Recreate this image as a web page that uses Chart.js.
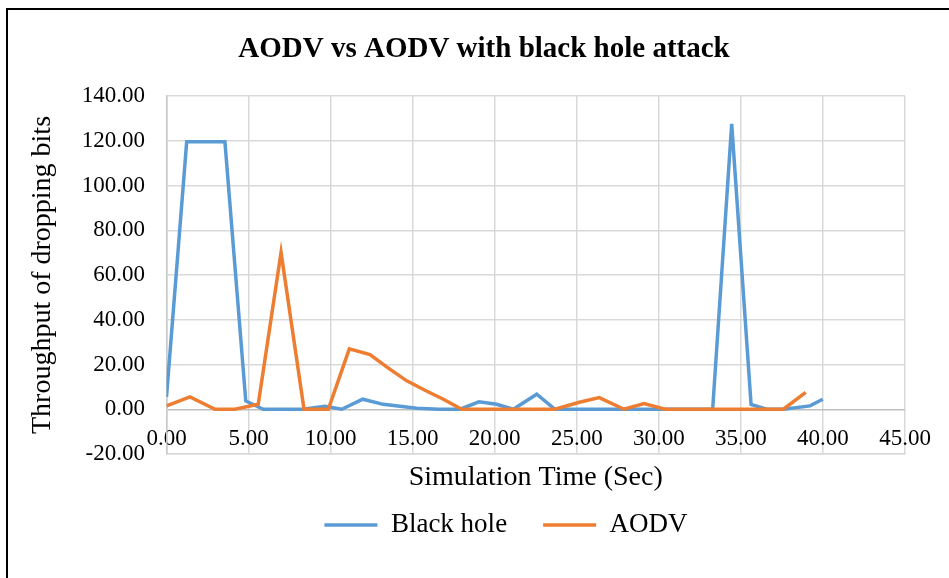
<!DOCTYPE html>
<html>
<head>
<meta charset="utf-8">
<title>AODV vs AODV with black hole attack</title>
<script src="https://cdn.jsdelivr.net/npm/chart.js@4.4.1/dist/chart.umd.min.js"></script>
<style>
    html, body { margin: 0; padding: 0; background: #fff; }
    #wrap { position: relative; width: 949px; height: 578px; overflow: hidden; }
    #frame { position: absolute; left: 6px; top: 8px; width: 1000px; height: 700px; border: 2px solid #000; pointer-events: none; }
    canvas { position: absolute; left: 0; top: 0; }
</style>
</head>
<body>
<div id="wrap">
    <div id="frame"></div>
    <canvas id="chart" width="949" height="578"></canvas>
</div>
<script>
// Black hole run (seconds / dropped throughput)
const bhTime  = [0, 1.23, 3.56, 4.83, 5.9, 7.0, 8.3, 9.66, 10.68, 11.96, 13.21, 14.23, 15.25, 16.6, 17.89, 19.04, 20.12, 21.13, 22.56, 23.67, 24.8, 26.0, 27.2, 28.3, 29.5, 30.7, 31.9, 33.28, 34.44, 35.62, 36.57, 37.59, 39.21, 39.99];
const bhValue = [5.5, 119.5, 119.5, 3.7, 0, 0, 0, 1.3, 0, 4.5, 2.2, 1.3, 0.4, 0, 0, 3.3, 2.2, 0, 6.7, 0, 0, 0, 0, 0, 0, 0, 0, 0, 127.5, 2.2, 0, 0, 1.5, 4.5];

// Plain AODV run
const aodvTime  = [0, 1.43, 2.96, 4.17, 5.59, 6.98, 8.38, 9.86, 11.14, 12.4, 13.52, 14.64, 15.75, 16.87, 17.99, 19.1, 20.2, 21.3, 22.5, 23.67, 25.1, 26.37, 27.88, 29.1, 30.38, 31.5, 32.6, 33.8, 35.0, 36.2, 37.59, 38.95];
const aodvValue = [1.5, 5.5, 0, 0, 2.2, 70.1, 0, 0, 27.0, 24.4, 18.4, 12.7, 8.5, 4.5, 0, 0, 0, 0, 0, 0, 3.0, 5.2, 0, 2.5, 0, 0, 0, 0, 0, 0, 0, 7.5];

const xTickValues = [0, 5, 10, 15, 20, 25, 30, 35, 40, 45];
const yTickValues = [-20, 0, 20, 40, 60, 80, 100, 120, 140];

const serif = "'Liberation Serif', 'Times New Roman', serif";

function toPoints(xs, ys) {
    return xs.map((x, i) => ({ x: x, y: ys[i] }));
}

// Excel puts the title / legend slightly off the plot centre,
// and the legend sits under the axis title
const nudgeBoxes = {
    id: 'nudgeBoxes',
    afterLayout(chart) {
        chart.titleBlock.left += 28;
        chart.titleBlock.right += 28;
        const lg = chart.legend;
        lg.left += 50;
        lg.right += 50;
        lg.top += 21.5;
        lg.bottom += 21.5;
    }
};

const ctx = document.getElementById('chart').getContext('2d');
new Chart(ctx, {
    type: 'line',
    data: {
        datasets: [{
            label: 'Black hole',
            data: toPoints(bhTime, bhValue),
            borderColor: '#5b9bd5',
            backgroundColor: '#5b9bd5',
            borderWidth: 3.5,
            pointRadius: 0,
            tension: 0,
            order: 1
        }, {
            label: 'AODV',
            data: toPoints(aodvTime, aodvValue),
            borderColor: '#ed7d31',
            backgroundColor: '#ed7d31',
            borderWidth: 3.5,
            pointRadius: 0,
            tension: 0,
            order: 0
        }]
    },
    options: {
        responsive: false,
        animation: false,
        layout: { padding: { left: 7, right: 44, top: 0, bottom: 51 } },
        plugins: {
            title: {
                display: true,
                text: 'AODV vs AODV with black hole attack',
                color: '#000',
                font: { family: serif, size: 29, weight: 'bold' },
                padding: { top: 32.6, bottom: 28.6 }
            },
            legend: {
                position: 'bottom',
                labels: {
                    color: '#000',
                    font: { family: serif, size: 27 },
                    usePointStyle: true,
                    pointStyle: 'line',
                    pointStyleWidth: 53,
                    padding: 36,
                    sort: (a, b) => a.datasetIndex - b.datasetIndex
                }
            },
            tooltip: { enabled: false }
        },
        scales: {
            x: {
                type: 'linear',
                position: { y: -20 },
                min: 0,
                max: 45,
                afterBuildTicks: scale => { scale.ticks = xTickValues.map(v => ({ value: v })); },
                afterFit: scale => { scale.height = 40; },
                ticks: {
                    color: '#000',
                    font: { family: serif, size: 23 },
                    padding: -29,
                    maxRotation: 0,
                    autoSkip: false,
                    callback: v => Number(v).toFixed(2)
                },
                grid: { color: '#d9d9d9', lineWidth: 1.5, drawTicks: false },
                border: { color: '#d9d9d9', width: 1.5 },
                title: {
                    display: true,
                    text: 'Simulation Time (Sec)',
                    color: '#000',
                    font: { family: serif, size: 28 },
                    padding: { top: 0, bottom: 0 }
                }
            },
            y: {
                min: -20,
                max: 140,
                afterBuildTicks: scale => { scale.ticks = yTickValues.map(v => ({ value: v })); },
                afterFit: scale => { scale.width = 159.5; },
                ticks: {
                    color: '#000',
                    font: { family: serif, size: 23 },
                    padding: 21.5,
                    callback: v => Number(v).toFixed(2)
                },
                grid: {
                    color: c => (c.tick && c.tick.value === 0) ? '#bfbfbf' : '#d9d9d9',
                    lineWidth: 1.5,
                    drawTicks: false
                },
                border: { color: '#c8c8c8', width: 1.5 },
                title: {
                    display: true,
                    text: 'Throughput of dropping bits',
                    color: '#000',
                    font: { family: serif, size: 28 },
                    padding: { top: 19, bottom: 0 }
                }
            }
        }
    },
    plugins: [nudgeBoxes]
});
</script>
</body>
</html>
